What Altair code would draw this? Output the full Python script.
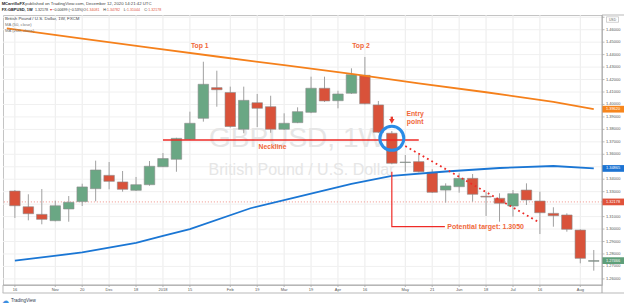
import altair as alt
import pandas as pd

FONT = "Liberation Sans, Arial, Helvetica, sans-serif"

# ---------------- data ----------------
weeks = list(range(44))
opens = [1.3305, 1.3179, 1.3118, 1.3067, 1.3161, 1.3220, 1.3324, 1.3431, 1.3378, 1.3311,
         1.3356, 1.3500, 1.3560, 1.3720, 1.3889, 1.4135, 1.4096, 1.3801, 1.4014, 1.3982,
         1.3801, 1.3854, 1.3937, 1.4130, 1.4030, 1.4090, 1.4234, 1.3996, 1.3769, 1.3534,
         1.3541, 1.3456, 1.3313, 1.3340, 1.3407, 1.3263, 1.3247, 1.3185, 1.3313, 1.3225,
         1.3126, 1.3113, 1.2992, 1.2741]
highs = [1.3313, 1.3279, 1.3321, 1.3228, 1.3265, 1.3364, 1.3549, 1.3538, 1.3466, 1.3418,
         1.3546, 1.3610, 1.3733, 1.3942, 1.4343, 1.4271, 1.4143, 1.4143, 1.4084, 1.4070,
         1.3929, 1.3977, 1.4223, 1.4223, 1.4110, 1.4290, 1.4381, 1.4028, 1.3787, 1.3594,
         1.3594, 1.3480, 1.3367, 1.3448, 1.3442, 1.3300, 1.3287, 1.3313, 1.3367, 1.3300,
         1.3175, 1.3126, 1.2998, 1.2832]
lows = [1.3089, 1.3070, 1.3038, 1.3062, 1.3059, 1.3185, 1.3223, 1.3319, 1.3300, 1.3305,
        1.3348, 1.3498, 1.3460, 1.3715, 1.3862, 1.3982, 1.3815, 1.3769, 1.3819, 1.3773,
        1.3795, 1.3850, 1.3930, 1.4020, 1.3969, 1.4085, 1.4000, 1.3770, 1.3520, 1.3460,
        1.3455, 1.3290, 1.3212, 1.3292, 1.3220, 1.3105, 1.3059, 1.3099, 1.3193, 1.2960,
        1.3019, 1.2979, 1.2725, 1.2666]
closes = [1.3187, 1.3123, 1.3078, 1.3187, 1.3215, 1.3338, 1.3474, 1.3383, 1.3319, 1.3356,
          1.3504, 1.3566, 1.3728, 1.3849, 1.4162, 1.4118, 1.3823, 1.4033, 1.3969, 1.3801,
          1.3849, 1.3942, 1.4130, 1.4028, 1.4084, 1.4239, 1.4006, 1.3777, 1.3528, 1.3538,
          1.3460, 1.3295, 1.3346, 1.3407, 1.3279, 1.3257, 1.3207, 1.3284, 1.3233, 1.3131,
          1.3107, 1.2998, 1.2765, 1.2747]

tick_weeks = [0, 3, 5, 7, 9, 11, 13, 16, 18, 20, 22, 24, 26, 29, 31, 33, 35, 37, 39, 42]
tick_labels = ["16", "Nov", "20", "Dec", "18", "2018", "15", "Feb", "19", "Mar", "19",
               "Apr", "16", "May", "21", "Jun", "18", "Jul", "16", "Aug"]
price_ticks = [1.26, 1.27, 1.28, 1.29, 1.30, 1.31, 1.32, 1.33, 1.34, 1.35, 1.36, 1.37,
               1.38, 1.39, 1.40, 1.41, 1.42, 1.43, 1.44, 1.45, 1.46, 1.47]

ma50_weeks = [0, 5, 9, 11, 13, 17.5, 21, 25, 28, 32, 36, 40, 43]
ma50_vals = [1.2746, 1.2812, 1.2890, 1.2945, 1.3000, 1.3167, 1.3258, 1.3362, 1.3426,
             1.3462, 1.3490, 1.3506, 1.34865]
ma200_weeks = [-0.6, 5, 10, 15, 20, 25, 30, 35, 40, 43]
ma200_vals = [1.4610, 1.4528, 1.4456, 1.4385, 1.4315, 1.4245, 1.4170, 1.4098, 1.4020, 1.3962]

last_price = 1.32178
neck_weeks = [11.0, 30.0]
neck_price = 1.3715
entry_week = 28.0
entry_price = 1.3728
arrow_prices = [1.3902, 1.3876, 1.3865]
proj_weeks = [29.0, 39.0]
proj_prices = [1.3666, 1.3050]
tgt_weeks = [28.0, 28.0, 31.94]
tgt_prices = [1.3460, 1.3019, 1.3019]

notes = ["Top 1", "Top 2", "Neckline", "Entry", "point"]
note_weeks = [13.73, 25.71, 19.14, 29.73, 29.73]
note_prices = [1.4469, 1.4469, 1.3659, 1.3921, 1.3862]
target_label = "Potential target: 1.3050"
target_label_week = 32.12
target_label_price = 1.3019

tag_prices = [1.39620, 1.34865, 1.32178, 1.27466]
tag_labels = ["1.39620", "1.34865", "1.32178", "1.27466"]
tag_colors = ["#f7861d", "#1c74d3", "#e0523b", "#5e9f79"]

# ---------------- styling ----------------
GREEN = "#6aa784"
RED = "#d9523a"
ANNO = "#f0673a"
LINE_RED = "#ee2a26"
AXIS_GRAY = "#a8a8a8"
XS = alt.Scale(domain=[-0.511, 43.24], nice=False, zero=False)
YS = alt.Scale(domain=[1.2551, 1.4718], nice=False, zero=False)


def X(f):
    return alt.X(f"{f}:Q", scale=XS, axis=None)


def Y(f):
    return alt.Y(f"{f}:Q", scale=YS, axis=None)


dummy = pd.DataFrame({"d": [0]})


def ptext(s, x, y, size=4.1, color="#333333", weight="normal", align="left", font=FONT,
          baseline="middle"):
    return alt.Chart(dummy).mark_text(
        text=s, fontSize=size, color=color, fontWeight=weight, align=align,
        baseline=baseline, font=font
    ).encode(x=alt.value(x), y=alt.value(y))


cdf = pd.DataFrame({"w": weeks, "o": opens, "h": highs, "l": lows, "c": closes})
cdf["dir"] = ["up" if c >= o else "down" for o, c in zip(opens, closes)]
xt = pd.DataFrame({"w": tick_weeks, "lab": tick_labels})
yt = pd.DataFrame({"p": price_ticks, "lab": [f"{v:.5f}" for v in price_ticks]})
# labels hidden behind the price tags and the currency box are not drawn
yt_vis = yt[[(min(abs(p - t) for t in tag_prices) > 0.003) and p < 1.465
             for p in price_ticks]]

layers = []

# grid
layers.append(alt.Chart(xt).mark_rule(color="#ebebeb", strokeWidth=1).encode(x=X("w")))
layers.append(alt.Chart(yt).mark_rule(color="#f0f0f0", strokeWidth=1).encode(y=Y("p")))

# watermark
layers.append(ptext("GBPUSD, 1W", 294, 131.5, size=28, color="#e6e6e6", align="center",
                    baseline="alphabetic"))
layers.append(ptext("British Pound / U.S. Dollar", 298.5, 160, size=16, color="#e6e6e6",
                    align="center", baseline="alphabetic"))

# current price dotted line
layers.append(alt.Chart(pd.DataFrame({"p": [last_price]})).mark_rule(
    color="#f2a39c", strokeDash=[1.2, 1.8], strokeWidth=1).encode(y=Y("p")))

# wicks
layers.append(alt.Chart(cdf).mark_rule(color="#a0a0a0", strokeWidth=1).encode(
    x=X("w"), y=Y("l"), y2=alt.Y2("h")))

# bodies
layers.append(alt.Chart(cdf).mark_bar(width=10.5, stroke="#8c8c8c", strokeWidth=0.6).encode(
    x=X("w"), y=Y("o"), y2=alt.Y2("c"),
    color=alt.Color("dir:N", scale=alt.Scale(domain=["up", "down"], range=[GREEN, RED]),
                    legend=None)))

# moving averages
layers.append(alt.Chart(pd.DataFrame({"w": ma200_weeks, "p": ma200_vals})).mark_line(
    color="#f5801b", strokeWidth=1.8).encode(x=X("w"), y=Y("p")))
layers.append(alt.Chart(pd.DataFrame({"w": ma50_weeks, "p": ma50_vals})).mark_line(
    color="#1a76d4", strokeWidth=1.8).encode(x=X("w"), y=Y("p")))

# neckline
layers.append(alt.Chart(pd.DataFrame({"w0": [neck_weeks[0]], "w1": [neck_weeks[1]],
                                      "p": [neck_price]})).mark_rule(
    color=LINE_RED, strokeWidth=1.6).encode(x=X("w0"), x2=alt.X2("w1"), y=Y("p")))

# projection dotted line
layers.append(alt.Chart(pd.DataFrame({"w": proj_weeks, "p": proj_prices})).mark_line(
    color=LINE_RED, strokeWidth=1.8, strokeDash=[1.8, 3.2]).encode(x=X("w"), y=Y("p")))

# target path
layers.append(alt.Chart(pd.DataFrame({"w": tgt_weeks, "p": tgt_prices,
                                      "i": list(range(len(tgt_weeks)))})).mark_line(
    color=LINE_RED, strokeWidth=1.2).encode(x=X("w"), y=Y("p"), order="i:Q"))

# entry circle
layers.append(alt.Chart(pd.DataFrame({"w": [entry_week], "p": [entry_price]})).mark_point(
    shape="circle", size=576, filled=False, stroke="#2a8ce6", strokeWidth=3, opacity=1).encode(
    x=X("w"), y=Y("p")))

# entry arrow
layers.append(alt.Chart(pd.DataFrame({"w": [entry_week], "p0": [arrow_prices[0]],
                                      "p1": [arrow_prices[1]]})).mark_rule(
    color="#e8392d", strokeWidth=2.4).encode(x=X("w"), y=Y("p0"), y2=alt.Y2("p1")))
layers.append(alt.Chart(pd.DataFrame({"w": [entry_week], "p": [arrow_prices[2]]})).mark_point(
    shape="triangle-down", size=30, filled=True, color="#e8392d", opacity=1).encode(
    x=X("w"), y=Y("p")))

# annotation texts
ndf = pd.DataFrame({"t": notes, "w": note_weeks, "p": note_prices})
layers.append(alt.Chart(ndf).mark_text(fontSize=6.8, fontWeight="bold", color=ANNO,
                                       font=FONT, align="center", baseline="middle").encode(
    x=X("w"), y=Y("p"), text="t:N"))
layers.append(alt.Chart(pd.DataFrame({"t": [target_label], "w": [target_label_week],
                                      "p": [target_label_price]})).mark_text(
    fontSize=7, fontWeight="bold", color=ANNO, font=FONT, align="left",
    baseline="middle").encode(x=X("w"), y=Y("p"), text="t:N"))

# pane legend texts
layers.append(ptext("British Pound / U.S. Dollar, 1W, FXCM", 2, 4, size=4.4, color="#3c3f48"))
layers.append(ptext("MA (50, close)", 2, 10.3, size=4.2, color="#777777"))
layers.append(ptext("MA (200, close)", 2, 16.3, size=4.2, color="#777777"))

# axes drawn through the scales
layers.append(alt.Chart(xt).mark_rule(color=AXIS_GRAY, strokeWidth=0.8).encode(
    x=X("w"), y=alt.value(270), y2=alt.value(272)))
layers.append(alt.Chart(xt).mark_text(fontSize=4, color="#555555", font=FONT, align="center",
                                      baseline="middle").encode(
    x=X("w"), y=alt.value(275.2), text="lab:N"))
layers.append(alt.Chart(yt).mark_rule(color=AXIS_GRAY, strokeWidth=0.8).encode(
    y=Y("p"), x=alt.value(599), x2=alt.value(601.5)))
layers.append(alt.Chart(yt_vis).mark_text(fontSize=4, color="#555555", font=FONT, align="left",
                                          baseline="middle").encode(
    y=Y("p"), x=alt.value(603), text="lab:N"))

# price tags on the right axis
tdf = pd.DataFrame({"p": tag_prices, "lab": tag_labels, "col": tag_colors})
tdf["top"] = tdf["p"] + 0.0027
tdf["bot"] = tdf["p"] - 0.0027
layers.append(alt.Chart(tdf).mark_rect().encode(
    x=alt.value(599), x2=alt.value(621), y=Y("top"), y2=alt.Y2("bot"),
    color=alt.Color("col:N", scale=None)))
layers.append(alt.Chart(tdf).mark_text(fontSize=3.9, color="white", align="left",
                                       baseline="middle", font=FONT).encode(
    x=alt.value(603), y=Y("p"), text="lab:N"))

# USD box
layers.append(alt.Chart(dummy).mark_rect(fill="white", stroke="#b5b5b5", strokeWidth=0.6).encode(
    x=alt.value(603.5), x2=alt.value(615.5), y=alt.value(1.8), y2=alt.value(7.3)))
layers.append(ptext("USD", 609.5, 4.6, size=3.4, color="#666666", align="center"))

# frame pieces
frame = "#b9b9b9"
layers.append(alt.Chart(dummy).mark_rule(color=frame, strokeWidth=1).encode(
    x=alt.value(-0.3), x2=alt.value(621), y=alt.value(278)))
layers.append(alt.Chart(dummy).mark_rule(color=frame, strokeWidth=1).encode(
    x=alt.value(0), y=alt.value(270), y2=alt.value(278)))
layers.append(alt.Chart(dummy).mark_rule(color=AXIS_GRAY, strokeWidth=1).encode(
    x=alt.value(599), y=alt.value(270), y2=alt.value(278)))
layers.append(alt.Chart(dummy).mark_rule(color=frame, strokeWidth=1).encode(
    x=alt.value(599), x2=alt.value(621), y=alt.value(0)))
layers.append(alt.Chart(dummy).mark_rule(color=AXIS_GRAY, strokeWidth=1).encode(
    x=alt.value(0), x2=alt.value(599), y=alt.value(270)))
layers.append(alt.Chart(dummy).mark_rule(color=AXIS_GRAY, strokeWidth=1).encode(
    x=alt.value(599), y=alt.value(0), y2=alt.value(270)))

# header
layers.append(ptext("MCarrilloFX", -1.3, -11, size=4.1, weight="bold", color="#222222"))
layers.append(ptext("published on TradingView.com, December 12, 2020 14:21:42 UTC",
                    22.3, -11, size=4.3, color="#444444"))
header2 = [
    ("FX:GBPUSD, 1W", -1.3, "#222222", "bold", 3.9),
    ("1.32178", 32, "#333333", "normal", 3.6),
    ("\u25BC", 46.3, "#e0423a", "normal", 3.6),
    ("\u22120.00699 (\u22120.53%)", 49.3, "#333333", "normal", 3.6),
    ("O:", 80.2, "#333333", "normal", 3.6),
    ("1.34081", 83.5, "#e0533c", "normal", 3.6),
    ("H:", 100.2, "#333333", "normal", 3.6),
    ("1.34782", 104, "#e0533c", "normal", 3.6),
    ("L:", 120.8, "#333333", "normal", 3.6),
    ("1.31044", 124, "#e0533c", "normal", 3.6),
    ("C:", 141.2, "#333333", "normal", 3.6),
    ("1.32178", 145.2, "#e0533c", "normal", 3.6),
]
for s, x, c, wgt, sz in header2:
    layers.append(ptext(s, x, -4.7, size=sz, color=c, weight=wgt))

# footer logo
layers.append(ptext("\u2601", -0.8, 285.5, size=7, color="#3b8ee0"))
layers.append(ptext("TradingView", 8, 285.8, size=4.5, color="#2e3b4e"))

chart = alt.layer(*layers).properties(
    width=599, height=270,
    padding={"left": 3, "top": 15, "right": 22, "bottom": 22},
    autosize=alt.AutoSizeParams(type="none"),
    background="white",
).configure_view(stroke="#c4c4c4", strokeWidth=1)

chart.save("out.html", embed_options={"renderer": "svg", "actions": False})
